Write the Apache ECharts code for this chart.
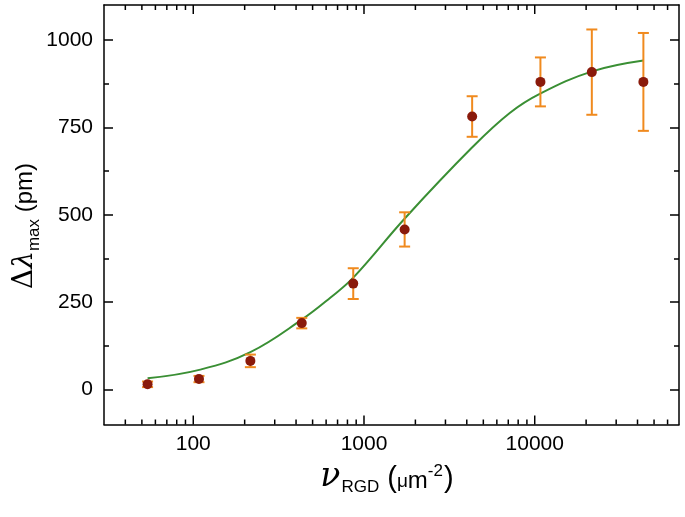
<!DOCTYPE html>
<html>
<head>
<meta charset="utf-8">
<script src="https://cdn.jsdelivr.net/npm/echarts@6/dist/echarts.min.js"></script>
<style>
html,body{margin:0;padding:0;background:#fff;}
#chart{width:685px;height:517px;}
</style>
</head>
<body>
<div id="chart"></div>
<script>
// ---- data ----
const xVals = [54, 108, 216, 432, 865, 1730, 4300, 10800, 21600, 43300];
const yVals = [15, 30, 82, 190, 303, 458, 781, 880, 908, 880];
const yErr  = [8, 9, 18, 15, 44, 49, 58, 70, 122, 140];
const fitX  = [54, 110, 216, 432, 632, 865, 1738, 4250, 7140, 10835, 21700, 43300];
const fitY  = [32, 57, 107, 200, 262, 320, 490, 690, 791, 847, 910, 941];
const xTickLabels = [100, 1000, 10000];
const xMinorVals = [40, 50, 60, 70, 80, 90, 200, 300, 400, 500, 600, 700, 800, 900,
  2000, 3000, 4000, 5000, 6000, 7000, 8000, 9000, 20000, 30000, 40000, 50000, 60000];
const yTickVals = [0, 250, 500, 750, 1000];
const yMinorVals = [125, 375, 625, 875];

const X_MIN = 30, X_MAX = 70000, Y_MIN = -100, Y_MAX = 1100;
const pts = xVals.map((x, i) => [x, yVals[i]]);
const errs = xVals.map((x, i) => [x, yVals[i] - yErr[i], yVals[i] + yErr[i]]);
const fit = fitX.map((x, i) => [x, fitY[i]]);
const MAJOR_LEN = 9, MINOR_LEN = 5;
const xTickItems = xTickLabels.map(v => [v, MAJOR_LEN]).concat(xMinorVals.map(v => [v, MINOR_LEN]));

const lineStyle = {color: '#000', width: 1.5};
const labelFont = {fontFamily: 'Liberation Sans, Arial, sans-serif', fontSize: 21, color: '#000'};

function xAxisDef(pos, showLabel) {
  return {
    type: 'log', logBase: 10, min: X_MIN, max: X_MAX, position: pos,
    axisLine: {show: true, onZero: false, lineStyle},
    axisTick: {show: false},
    axisLabel: Object.assign({
      show: showLabel, margin: 9,
      formatter: v => xTickLabels.includes(Math.round(v)) ? String(Math.round(v)) : ''
    }, labelFont),
    splitLine: {show: false}
  };
}
function yAxisDef(pos, ticks, len, showLine, showLabel) {
  return {
    type: 'value', min: Y_MIN, max: Y_MAX, position: pos,
    axisLine: {show: showLine, onZero: false, lineStyle},
    axisTick: {show: true, inside: true, length: len, customValues: ticks, lineStyle},
    axisLabel: Object.assign({show: showLabel, margin: 11, customValues: ticks,
      formatter: v => String(v)}, labelFont),
    splitLine: {show: false}
  };
}

const chart = echarts.init(document.getElementById('chart'), null, {renderer: 'canvas'});
chart.setOption({
  animation: false,
  backgroundColor: '#fff',
  grid: {left: 104, top: 5, width: 575, height: 419.5, containLabel: false},
  xAxis: [xAxisDef('bottom', true), xAxisDef('top', false)],
  yAxis: [
    yAxisDef('left', yTickVals, MAJOR_LEN, true, true),
    yAxisDef('left', yMinorVals, MINOR_LEN, false, false),
    yAxisDef('right', yTickVals, MAJOR_LEN, true, false),
    yAxisDef('right', yMinorVals, MINOR_LEN, false, false)
  ],
  graphic: [
    {
      type: 'text', x: 387, y: 461, z: 100,
      style: {
        text: '{nu|ν}{sub|RGD}{par| (}{mu|μ}{m|m}{sup|-2}{par|)}',
        textAlign: 'center', textVerticalAlign: 'top',
        rich: {
          nu: {fontFamily: 'DejaVu Serif', fontStyle: 'italic', fontSize: 33, verticalAlign: 'top', padding: [0,1,0,0]},
          sub: {fontFamily: 'Liberation Sans', fontSize: 17, verticalAlign: 'top', padding: [18,0,0,0]},
          par: {fontFamily: 'Liberation Sans', fontSize: 29, verticalAlign: 'top', padding: [3,0,0,0]},
          mu: {fontFamily: 'Liberation Sans', fontSize: 19, verticalAlign: 'top', padding: [11,0,0,0]},
          m: {fontFamily: 'Liberation Sans', fontSize: 24, verticalAlign: 'top', padding: [8,0,0,0]},
          sup: {fontFamily: 'Liberation Sans', fontSize: 17, verticalAlign: 'top', padding: [2,1,0,0]}
        }
      }
    },
    {
      type: 'text', x: 11, y: 226, rotation: Math.PI / 2, z: 100,
      style: {
        text: '{d|Δ}{l|λ}{sub|max}{par| (pm)}',
        textAlign: 'center', textVerticalAlign: 'top',
        rich: {
          d: {fontFamily: 'DejaVu Serif', fontSize: 28, verticalAlign: 'top', padding: [0,0,0,0]},
          l: {fontFamily: 'DejaVu Serif', fontStyle: 'italic', fontSize: 28, verticalAlign: 'top', padding: [0,0,0,0]},
          sub: {fontFamily: 'Liberation Sans', fontSize: 17, verticalAlign: 'top', padding: [15,0,0,0]},
          par: {fontFamily: 'Liberation Sans', fontSize: 24, verticalAlign: 'top', padding: [2,0,0,0]}
        }
      }
    }
  ],
  series: [
    {
      type: 'custom', name: 'xticks', data: xTickItems, xAxisIndex: 0, yAxisIndex: 0, z: 6,
      clip: false, silent: true,
      renderItem: function (params, api) {
        const v = api.value(0), len = api.value(1);
        const b = api.coord([v, Y_MIN]);
        const t = api.coord([v, Y_MAX]);
        const st = {stroke: '#000', lineWidth: 1.5};
        return {
          type: 'group',
          children: [
            {type: 'line', shape: {x1: b[0], y1: b[1], x2: b[0], y2: b[1] - len}, style: st},
            {type: 'line', shape: {x1: t[0], y1: t[1], x2: t[0], y2: t[1] + len}, style: st}
          ]
        };
      }
    },
    {
      type: 'line', name: 'fit', data: fit, xAxisIndex: 0, yAxisIndex: 0,
      smooth: 0.4, showSymbol: false, symbol: 'none',
      lineStyle: {color: '#3a8f34', width: 2}, z: 2
    },
    {
      type: 'custom', name: 'err', data: errs, xAxisIndex: 0, yAxisIndex: 0, z: 3,
      renderItem: function (params, api) {
        const lo = api.coord([api.value(0), api.value(1)]);
        const hi = api.coord([api.value(0), api.value(2)]);
        const w = 5.5;
        const st = {stroke: '#f08a1e', lineWidth: 2};
        return {
          type: 'group',
          children: [
            {type: 'line', shape: {x1: lo[0], y1: lo[1], x2: hi[0], y2: hi[1]}, style: st},
            {type: 'line', shape: {x1: lo[0] - w, y1: lo[1], x2: lo[0] + w, y2: lo[1]}, style: st},
            {type: 'line', shape: {x1: hi[0] - w, y1: hi[1], x2: hi[0] + w, y2: hi[1]}, style: st}
          ]
        };
      }
    },
    {
      type: 'scatter', name: 'data', data: pts, xAxisIndex: 0, yAxisIndex: 0, z: 4,
      symbol: 'circle', symbolSize: 10,
      itemStyle: {color: '#8a1a0b', opacity: 1}
    }
  ]
});
</script>
</body>
</html>
